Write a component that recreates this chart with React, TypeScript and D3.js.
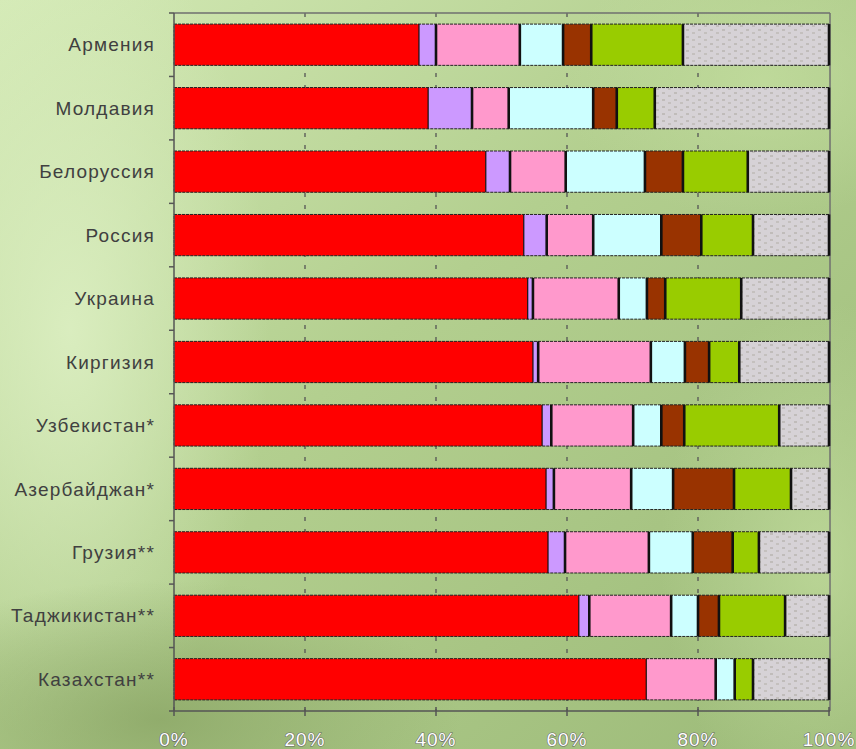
import React from "react";
import * as d3 from "d3";

const countries = ["Армения", "Молдавия", "Белоруссия", "Россия", "Украина", "Киргизия", "Узбекистан*", "Азербайджан*", "Грузия**", "Таджикистан**", "Казахстан**"];
const redS = [37.4, 38.8, 47.6, 53.4, 54.0, 54.8, 56.2, 56.8, 57.1, 61.8, 72.1];
const purpleS = [2.6, 6.7, 3.7, 3.5, 0.8, 0.8, 1.4, 1.2, 2.6, 1.6, 0];
const pinkS = [12.8, 5.6, 8.5, 7.1, 13.1, 17.2, 12.5, 11.8, 12.8, 12.5, 10.6];
const cyanS = [6.6, 12.9, 12.1, 10.4, 4.3, 5.2, 4.3, 6.4, 6.7, 4.1, 2.9];
const brownS = [4.3, 3.6, 5.8, 6.1, 2.8, 3.7, 3.5, 9.3, 6.1, 3.2, 0];
const greenS = [14.0, 5.8, 9.9, 7.9, 11.6, 4.6, 14.5, 8.7, 4.0, 10.1, 2.8];
const greyS = [22.3, 26.6, 12.4, 11.6, 13.4, 13.7, 7.6, 5.8, 10.7, 6.7, 11.6];
const xTicks = [0, 20, 40, 60, 80, 100];

const seriesKeys = ["red", "purple", "pink", "cyan", "brown", "green", "grey"];
const seriesArrays = [redS, purpleS, pinkS, cyanS, brownS, greenS, greyS];
const fills: Record<string, string> = {
  red: "#ff0000",
  purple: "#cc99ff",
  pink: "#ff99cc",
  cyan: "#ccffff",
  brown: "#993300",
  green: "#99cc00",
  grey: "url(#greyTex)",
};

const W = 856, H = 749;
const L = 174, R = 829, T = 13, B = 711;

export default function App() {
  const rows = countries.map((c, i) => {
    const o: any = { country: c };
    seriesKeys.forEach((k, j) => (o[k] = seriesArrays[j][i]));
    return o;
  });
  const stacked = d3.stack().keys(seriesKeys)(rows);
  const x = d3.scaleLinear().domain([0, 100]).range([L, R]);
  const y = d3.scaleBand<string>().domain(countries).range([T, B]).paddingInner(0.35).paddingOuter(0.175);
  const step = y.step();
  const bw = y.bandwidth();

  return (
    <svg width={W} height={H} style={{ position: "absolute", left: 0, top: 0 }} fontFamily="'Liberation Sans', Arial, sans-serif">
      <defs>
        <linearGradient id="bg" x1="0" y1="0" x2="1" y2="1">
          <stop offset="0" stopColor="#d4eab6" />
          <stop offset="0.45" stopColor="#b3cf8f" />
          <stop offset="1" stopColor="#9cba78" />
        </linearGradient>
        <radialGradient id="glowL" cx="0.5" cy="0.5" r="0.5">
          <stop offset="0" stopColor="#dcefc2" stopOpacity="0.9" />
          <stop offset="1" stopColor="#dcefc2" stopOpacity="0" />
        </radialGradient>
        <radialGradient id="darkB" cx="0.5" cy="0.5" r="0.5">
          <stop offset="0" stopColor="#8aa565" stopOpacity="0.8" />
          <stop offset="1" stopColor="#8aa565" stopOpacity="0" />
        </radialGradient>
        <radialGradient id="glowR" cx="0.5" cy="0.5" r="0.5">
          <stop offset="0" stopColor="#c4dea0" stopOpacity="0.7" />
          <stop offset="1" stopColor="#c4dea0" stopOpacity="0" />
        </radialGradient>
        <pattern id="greyTex" width="12" height="7" patternUnits="userSpaceOnUse">
          <rect width="12" height="7" fill="#d6d2d6" />
          <line x1="2" y1="2" x2="5" y2="2" stroke="#aaa79f" strokeWidth="1" />
          <line x1="8" y1="5" x2="11" y2="5" stroke="#b2aea6" strokeWidth="1" />
        </pattern>
      </defs>
      <rect width={W} height={H} fill="url(#bg)" />
      <ellipse cx={70} cy={330} rx={200} ry={420} fill="url(#glowL)" />
      <ellipse cx={160} cy={720} rx={300} ry={140} fill="url(#darkB)" />
      <ellipse cx={820} cy={560} rx={160} ry={260} fill="url(#glowR)" />
      <ellipse cx={760} cy={80} rx={200} ry={140} fill="url(#glowR)" />

      {/* gridlines */}
      {xTicks.slice(1, -1).map((t) => (
        <line key={"g" + t} x1={x(t)} x2={x(t)} y1={T} y2={B} stroke="#555" strokeWidth={1.3} strokeDasharray="4,8" />
      ))}

      {/* plot border */}
      <line x1={L} x2={R + 1} y1={T} y2={T} stroke="#6f6f6f" strokeWidth={1.5} />
      <line x1={R + 1} x2={R + 1} y1={T} y2={B} stroke="#6f6f6f" strokeWidth={1.5} />

      {/* bars */}
      {stacked.map((s) => (
        <g key={s.key}>
          {s.map((d, i) =>
            d[1] - d[0] > 0 ? (
              <rect key={i} x={x(d[0])} y={y(countries[i])!} width={x(d[1]) - x(d[0])} height={bw} fill={fills[s.key]} />
            ) : null
          )}
        </g>
      ))}
      {/* bar outlines */}
      {countries.map((c) => (
        <rect key={"o" + c} x={x(0)} y={y(c)!} width={x(100) - x(0)} height={bw} fill="none" stroke="#222" strokeWidth={1} strokeDasharray="3,1" />
      ))}
      {/* segment separators */}
      {stacked.map((s, si) =>
        s.map((d, i) =>
          d[1] - d[0] > 0 || si === seriesKeys.length - 1 ? (
            <line key={s.key + "s" + i} x1={x(d[1])} x2={x(d[1])} y1={y(countries[i])!} y2={y(countries[i])! + bw} stroke="#111" strokeWidth={si === 0 ? 1.2 : 2.6} />
          ) : null
        )
      )}

      {/* axes */}
      <line x1={L} x2={L} y1={T} y2={B} stroke="#555" strokeWidth={1.5} />
      <line x1={L} x2={R + 1} y1={B} y2={B} stroke="#555" strokeWidth={1.5} />
      {d3.range(countries.length + 1).map((i) => (
        <line key={"yt" + i} x1={L - 5} x2={L} y1={T + i * step} y2={T + i * step} stroke="#555" strokeWidth={1.5} />
      ))}
      {xTicks.map((t) => (
        <line key={"xt" + t} x1={x(t)} x2={x(t)} y1={B - 4} y2={B + 5} stroke="#555" strokeWidth={1.5} />
      ))}

      {/* category labels */}
      {countries.map((c) => (
        <text key={"l" + c} x={155} y={y(c)! + bw / 2} dy="0.35em" textAnchor="end" fontSize={19} letterSpacing={1.2} fill="#404040">
          {c}
        </text>
      ))}

      {/* x tick labels */}
      {xTicks.map((t) => (
        <text key={"xl" + t} x={x(t)} y={746} textAnchor="middle" fontSize={19} letterSpacing={1} fill="#ffffff" stroke="#666" strokeWidth={1.1} paintOrder="stroke">
          {t + "%"}
        </text>
      ))}
    </svg>
  );
}
